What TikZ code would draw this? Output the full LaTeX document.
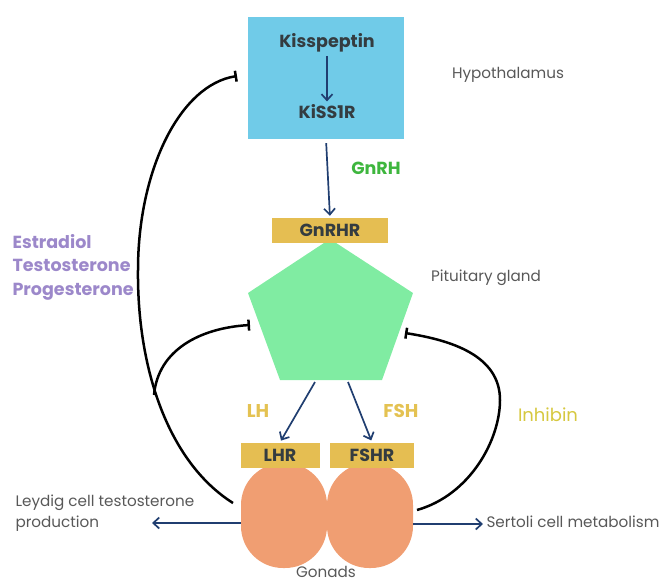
\documentclass[tikz,border=0pt]{standalone}
\usepackage{fontspec}
\setmainfont{Poppins}
\usetikzlibrary{arrows.meta,positioning}
\definecolor{hypblue}{RGB}{112,203,232}
\definecolor{recgold}{RGB}{229,190,82}
\definecolor{pitgreen}{RGB}{128,236,162}
\definecolor{gonorange}{RGB}{240,158,114}
\definecolor{arrblue}{RGB}{32,62,112}
\definecolor{darktext}{RGB}{52,60,64}
\definecolor{greytext}{RGB}{88,88,88}
\definecolor{gnrhgreen}{RGB}{62,182,62}
\definecolor{steroid}{RGB}{156,136,202}
\definecolor{lhyellow}{RGB}{228,194,82}
\definecolor{inhyellow}{RGB}{214,200,64}

\begin{document}
\begin{tikzpicture}[
  x=1pt,y=-1pt,
  font=\fontsize{15.2}{21}\selectfont,
  recbox/.style={fill=recgold,inner sep=0pt,minimum height=25pt,font=\fontsize{17.5}{20}\selectfont\bfseries,text=darktext},
  gonad/.style={fill=gonorange,rounded corners=42pt,minimum width=86pt,minimum height=105pt,inner sep=0pt},
  mol/.style={font=\fontsize{17.5}{20}\selectfont\bfseries,text=darktext},
  lbl/.style={text=greytext,font=\fontsize{15.2}{21}\selectfont},
  horm/.style={font=\fontsize{17.5}{20}\selectfont\bfseries},
  arr/.style={-{Straight Barb[length=6pt,width=11pt,line width=1.7pt]},line width=1.7pt,color=arrblue},
  inhib/.style={-{Bar[width=11pt,line width=2.5pt]},line width=2.5pt,black},
]
\useasboundingbox (0,0) rectangle (661,582);

% Hypothalamus
\node[fill=hypblue,minimum width=156pt,minimum height=122pt,inner sep=0pt] (hyp) at (326,78) {};
\node[mol] (kiss) at (327,43) {Kisspeptin};
\node[mol] (kissr) at (327,112) {KiSS1R};
\node[lbl] (hyplbl) at (508,75) {Hypothalamus};

% Pituitary
\coordinate (pT) at (330,239);
\coordinate (pL) at (248,293);
\coordinate (pR) at (413,293);
\coordinate (pBL) at (280,380);
\coordinate (pBR) at (382,380);
\fill[pitgreen] (pT) -- (pR) -- (pBR) -- (pBL) -- (pL) -- cycle;
\node[recbox,minimum width=116pt] (gnrhr) at (330,230.5) {GnRHR};
\node[lbl] (pitlbl) at (486,278) {Pituitary gland};

% Gonads
\node[gonad] (gonL) at (284,515.5) {};
\node[gonad] (gonR) at (370,515.5) {};
\node[recbox,minimum width=79pt] (lhr) at (280,455) {LHR};
\node[recbox,minimum width=84pt] (fshr) at (372,455) {FSHR};
\node[lbl,anchor=base,inner sep=0pt] (gonlbl) at (326,577.5) {Gonads};

% Labels
\node[horm,text=gnrhgreen] (gnrh) at (376,168) {GnRH};
\node[horm,text=lhyellow,font=\fontsize{18.5}{20}\selectfont\bfseries] (lh) at (258,411) {LH};
\node[horm,text=lhyellow,font=\fontsize{18.5}{20}\selectfont\bfseries] (fsh) at (401,411) {FSH};
\node[horm,text=steroid,align=left,anchor=west,font=\fontsize{17.5}{23.5}\selectfont\bfseries] (ster) at (9,267) {Estradiol\\Testosterone\\Progesterone};
\node[text=inhyellow,font=\fontsize{18}{20}\selectfont] (inh) at (548,415) {Inhibin};
\node[lbl,align=left,anchor=west] (leyd) at (12,513) {Leydig cell testosterone\\production};
\node[lbl,anchor=west] (sert) at (483,522) {Sertoli cell metabolism};

% Stimulation
\draw[arr] (kiss) -- (kissr);
\draw[arr,shorten <=4pt,shorten >=2pt] (hyp.south) -- (gnrhr.north);
\coordinate (lhs) at (315,382);
\coordinate (fshs) at (348,382);
\draw[arr,shorten >=2pt] (lhs) -- (lhr.north);
\draw[arr,shorten >=2pt] (fshs) -- (fshr.north);
\coordinate (leydend) at (152,523);
\draw[arr] ([yshift=-7.5pt]gonL.west) -- (leydend);
\draw[arr] ([yshift=-8.5pt]gonR.east) -- (sert.west |- 0,524);

% Feedback
\coordinate (fbL) at (233,503);
\coordinate (fbmid) at (138,270);
\coordinate (fbtop) at (237,76);
\coordinate (fbbr) at (154,395);
\coordinate (fbpl) at (250,325);
\coordinate (fbR) at (417,510);
\coordinate (fbrmid) at (500,400);
\coordinate (fbpr) at (405,333);
\draw[inhib,-] (fbL) .. controls (168,462) and (137,368) .. (fbmid);
\draw[inhib] (fbmid) .. controls (138,170) and (180,85) .. (fbtop);
\draw[inhib] (fbbr) .. controls (158,350) and (200,328) .. (fbpl);
\draw[inhib,-] (fbR) .. controls (470,495) and (500,440) .. (fbrmid);
\draw[inhib] (fbrmid) .. controls (500,355) and (450,340) .. (fbpr);

\end{tikzpicture}
\end{document}
